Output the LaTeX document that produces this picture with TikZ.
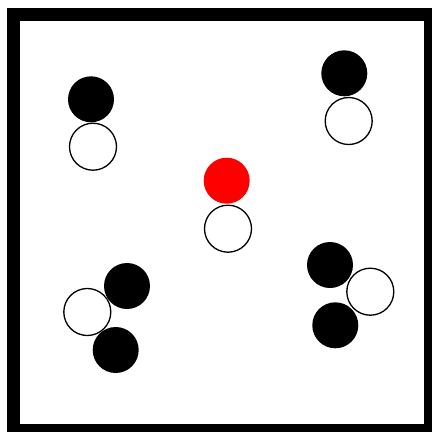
\documentclass[tikz,border=0pt]{standalone}
\begin{document}
\begin{tikzpicture}[x=1pt,y=-1pt,
  wball/.style={circle,draw=black,line width=1.3pt,fill=white,minimum size=47pt,inner sep=0pt},
  bball/.style={circle,fill=black,minimum size=46pt,inner sep=0pt},
  rball/.style={circle,fill=red,minimum size=46pt,inner sep=0pt}]
\useasboundingbox (0,0) rectangle (432,432);
\draw[line width=13pt] (13.5,14) rectangle (430.5,430.5);
% top-left pair
\node[wball] (w1) at (93,146.7) {};
\node[bball] (b1) at (91,99.3) {};
% top-right pair
\node[wball] (w2) at (348.7,121) {};
\node[bball] (b2) at (344.3,73.3) {};
% center pair
\node[wball] (w3) at (228,228.7) {};
\node[rball] (r3) at (226.7,180.7) {};
% bottom-left group
\node[wball] (w4) at (87.3,312) {};
\node[bball] (b4a) at (127,286) {};
\node[bball] (b4b) at (115.7,350) {};
% bottom-right group
\node[wball] (w5) at (370.3,291.7) {};
\node[bball] (b5a) at (330,265) {};
\node[bball] (b5b) at (335.3,325.3) {};
\end{tikzpicture}
\end{document}
